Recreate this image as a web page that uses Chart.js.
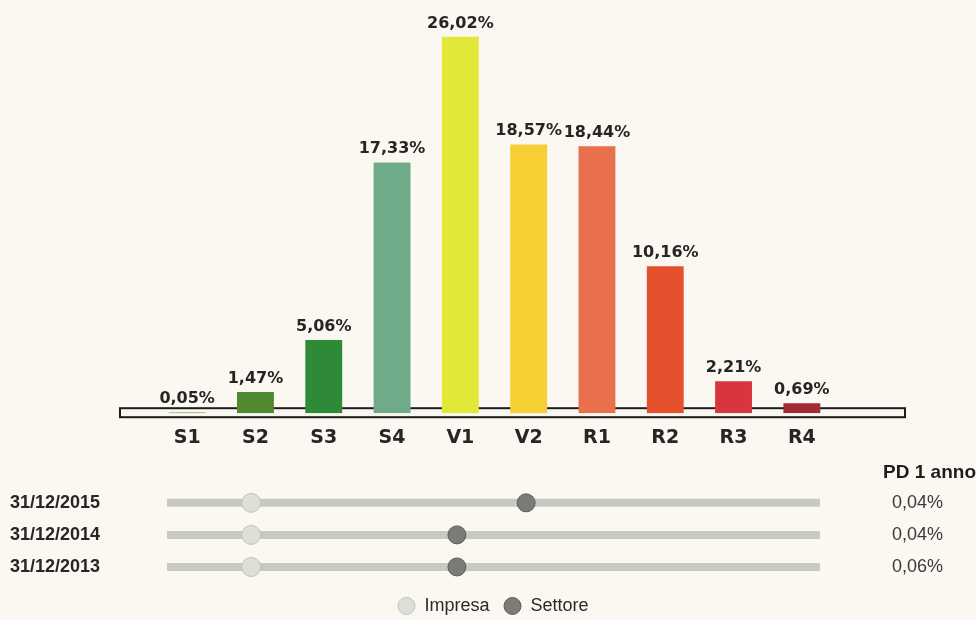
<!DOCTYPE html>
<html lang="it">
<head>
    <meta charset="UTF-8">
    <title>Distribuzione classi di rating</title>
    <script src="https://cdn.jsdelivr.net/npm/chart.js"></script>
    <style>
        html, body { margin: 0; background: #faf8f1; overflow: hidden; }
        #barre { position: absolute; left: 0; top: 0; }
        #cursori { position: absolute; left: 0; top: 460px; }
    </style>
</head>
<body>
    <canvas id="barre" width="976" height="473"></canvas>
    <canvas id="cursori" width="976" height="167"></canvas>
    <script>
        // dati
        const classi = ['S1', 'S2', 'S3', 'S4', 'V1', 'V2', 'R1', 'R2', 'R3', 'R4'];
        const quote = [0.05, 1.47, 5.06, 17.33, 26.02, 18.57, 18.44, 10.16, 2.21, 0.69];
        const coloriClassi = ['#7d8c2c', '#4f8a2f', '#2f8a37', '#6fab88', '#e2e838',
                              '#f6cf35', '#e8704c', '#e5512d', '#d8363d', '#a02b33'];

        const dateBilancio = ['31/12/2015', '31/12/2014', '31/12/2013'];
        const posImpresa = [12.9, 12.9, 12.9];
        const posSettore = [55.0, 44.4, 44.4];
        const pdUnAnno = [0.04, 0.04, 0.06];
        const scalaCursore = [0, 100];

        const fmt = v => v.toFixed(2).replace('.', ',') + '%';

        // barra orizzontale sotto le colonne + etichette valori
        const asseBarre = {
            id: 'asseBarre',
            beforeDatasetsDraw(chart) {
                const { ctx, chartArea } = chart;
                const y = chart.scales.y.getPixelForValue(0);
                const w = chartArea.right - chartArea.left + 102;
                ctx.save();
                ctx.fillStyle = '#f7f6f0';
                ctx.strokeStyle = '#1c1c1c';
                ctx.lineWidth = 2;
                ctx.fillRect(chartArea.left - 33, y - 5, w, 9);
                ctx.strokeRect(chartArea.left - 33, y - 5, w, 9);
                ctx.restore();
            },
            afterDatasetsDraw(chart) {
                const { ctx } = chart;
                ctx.save();
                ctx.font = 'bold 16px "DejaVu Sans"';
                ctx.fillStyle = '#252525';
                ctx.textAlign = 'center';
                ctx.textBaseline = 'alphabetic';
                chart.getDatasetMeta(0).data.forEach((bar, i) => {
                    ctx.fillText(fmt(quote[i]), bar.x, bar.y - 9);
                });
                ctx.restore();
            }
        };

        new Chart(document.getElementById('barre'), {
            type: 'bar',
            data: {
                labels: classi,
                datasets: [{
                    data: quote,
                    backgroundColor: coloriClassi,
                    borderWidth: 0,
                    categoryPercentage: 1,
                    barPercentage: 0.54
                }]
            },
            options: {
                responsive: false,
                animation: false,
                layout: { padding: { left: 153, right: 140, top: 8, bottom: 11 } },
                plugins: { legend: { display: false }, tooltip: { enabled: false } },
                scales: {
                    x: {
                        grid: { display: false, drawTicks: false },
                        border: { display: false },
                        ticks: {
                            padding: 13,
                            color: '#262626',
                            font: { family: 'DejaVu Sans', size: 19, weight: 'bold' }
                        }
                    },
                    y: { display: false, min: 0, max: 28 }
                }
            },
            plugins: [asseBarre]
        });

        // binari dei cursori
        const binari = dateBilancio.map(d => ({
            type: 'line',
            label: '',
            data: [{ x: scalaCursore[0], y: d }, { x: scalaCursore[1], y: d }],
            borderColor: '#c9c9c4',
            borderWidth: 8,
            borderCapStyle: 'butt',
            pointRadius: 0,
            order: 2
        }));

        // niente margini verticali extra dagli assi laterali
        const senzaMargini = w => s => { s.width = w; s.paddingTop = 0; s.paddingBottom = 0; };

        new Chart(document.getElementById('cursori'), {
            type: 'scatter',
            data: {
                datasets: [
                    {
                        label: 'Impresa',
                        data: dateBilancio.map((d, i) => ({ x: posImpresa[i], y: d })),
                        pointRadius: 9.5,
                        pointBackgroundColor: '#dfdfd9',
                        pointBorderColor: '#c2c2ba',
                        backgroundColor: '#dfdfd9',
                        borderColor: '#c2c2ba',
                        pointBorderWidth: 1,
                        order: 0
                    },
                    {
                        label: 'Settore',
                        data: dateBilancio.map((d, i) => ({ x: posSettore[i], y: d })),
                        pointRadius: 9,
                        pointBackgroundColor: '#7b7b77',
                        pointBorderColor: '#5a5a56',
                        backgroundColor: '#7b7b77',
                        borderColor: '#5a5a56',
                        pointBorderWidth: 1,
                        order: 0
                    },
                    ...binari
                ]
            },
            options: {
                responsive: false,
                animation: false,
                layout: { padding: { left: 10, right: 0, top: 0, bottom: 2 } },
                plugins: {
                    tooltip: { enabled: false },
                    title: {
                        display: true,
                        text: 'PD 1 anno',
                        align: 'end',
                        color: '#1e1e1e',
                        font: { family: 'Liberation Sans', size: 19, weight: 'bold' },
                        padding: { top: 1, bottom: 3 }
                    },
                    legend: {
                        position: 'bottom',
                        labels: {
                            filter: item => item.text !== '',
                            usePointStyle: true,
                            pointStyle: 'circle',
                            boxHeight: 12,
                            padding: 14,
                            color: '#2a2a2a',
                            font: { family: 'Liberation Sans', size: 18 }
                        }
                    }
                },
                scales: {
                    x: { type: 'linear', display: false, min: scalaCursore[0], max: scalaCursore[1] },
                    y: {
                        type: 'category',
                        labels: dateBilancio,
                        offset: true,
                        position: 'left',
                        grid: { display: false, drawTicks: false },
                        border: { display: false },
                        afterFit: senzaMargini(157),
                        ticks: {
                            crossAlign: 'far',
                            autoSkip: false,
                            color: '#262626',
                            font: { family: 'Liberation Sans', size: 18, weight: 'bold' }
                        }
                    },
                    y2: {
                        type: 'category',
                        labels: dateBilancio,
                        offset: true,
                        position: 'right',
                        grid: { display: false, drawTicks: false },
                        border: { display: false },
                        afterFit: senzaMargini(156),
                        ticks: {
                            crossAlign: 'near',
                            autoSkip: false,
                            padding: 72,
                            color: '#3a3a3a',
                            font: { family: 'Liberation Sans', size: 18 },
                            callback: (v, i) => fmt(pdUnAnno[i])
                        }
                    }
                }
            }
        });
    </script>
</body>
</html>
